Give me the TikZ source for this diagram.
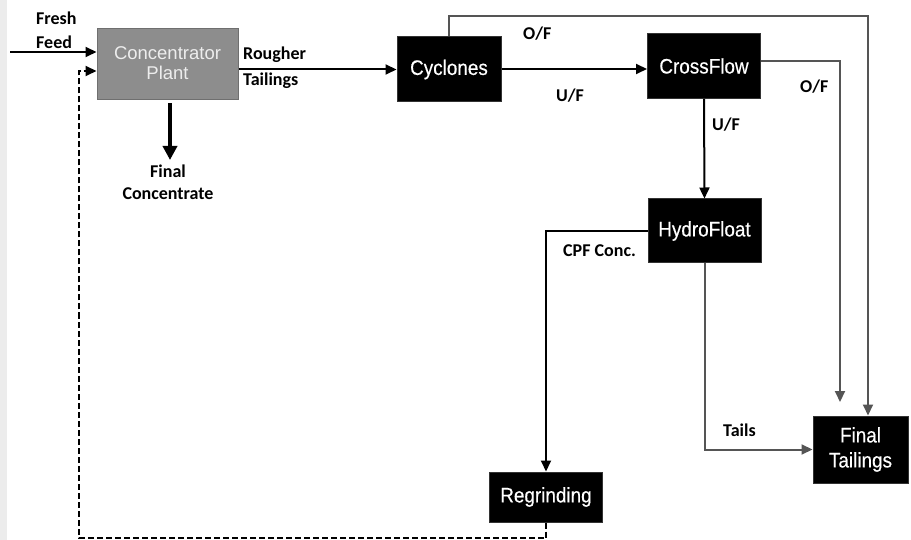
\documentclass[tikz,border=0pt]{standalone}
\usepackage{fontspec}
\setmainfont{Carlito}
\newfontfamily\unitfont[FakeStretch=0.9, FakeBold=0.4]{Liberation Sans}
\newfontfamily\plantfont{Liberation Sans}
\usetikzlibrary{arrows.meta, calc}

\definecolor{plantfill}{HTML}{8D8D8D}
\definecolor{plantline}{HTML}{6F6F6F}
\definecolor{planttext}{HTML}{EDEDED}
\definecolor{sideline}{HTML}{555555}
\definecolor{margin}{HTML}{ECECEC}

\tikzset{
  unit/.style={draw=black!80, fill=black, text=white, line width=1pt, inner sep=0pt,
    align=center, font=\unitfont\fontsize{21}{25}\selectfont},
  plant/.style={unit, draw=plantline, fill=plantfill, text=planttext,
    font=\plantfont\fontsize{18.5}{20}\selectfont},
  lbl/.style={inner sep=0pt, font=\bfseries\fontsize{18}{24}\selectfont},
  flow/.style={line width=2pt, -{Triangle[length=11pt,width=10pt]}},
  sideflow/.style={flow, draw=sideline},
  recycle/.style={flow, dash pattern=on 6pt off 3pt}
}

\begin{document}
\begin{tikzpicture}[x=1pt, y=-1pt]
  \useasboundingbox (0,0) rectangle (911,540);
  \fill[margin] (0,0) rectangle (7,540);

  % units
  \node (plant) at (167.5,64.5) [plant, minimum width=141, minimum height=71, text depth=3pt] {Concentrator\\Plant};
  \node (cyc) at (449,69.5) [unit, minimum width=104, minimum height=65] {Cyclones};
  \node (cross) at (704,66) [unit, minimum width=113, minimum height=65] {CrossFlow};
  \node (hydro) at (704.5,231) [unit, minimum width=113, minimum height=64] {HydroFloat};
  \node (regrind) at (546,497) [unit, minimum width=113, minimum height=50] {Regrinding};
  \node (final) at (860.5,449.5) [unit, minimum width=95, minimum height=67] {Final\\Tailings};

  % free ends
  \coordinate (feed) at (10,52);
  \coordinate (conc) at (170,160);
  \coordinate (cycof) at (868,16);
  \coordinate (crossof) at (840,61);
  \coordinate (crossend) at (840,402);
  \coordinate (retlow) at (79,538);
  \coordinate (rettop) at (79,71);

  % streams
  \draw[flow] (feed) -- (feed -| plant.west);
  \node (feedlbl) at (36,49) [lbl, anchor=base west, align=left] {Fresh\\Feed};

  \draw[line width=3.5pt, -{Triangle[length=14pt,width=14pt]}] (conc |- plant.south) ++(0,3) -- (conc);
  \node (conclbl) at (168,200) [lbl, anchor=base, align=center, font=\bfseries\fontsize{18}{22}\selectfont] {Final\\Concentrate};

  \draw[flow] (plant.east |- cyc.west) -- (cyc.west);
  \node (rtlbl) at (243,86) [lbl, anchor=base west, align=left, font=\bfseries\fontsize{18}{26}\selectfont] {Rougher\\Tailings};

  \draw[flow] ([yshift=0.5pt]cyc.east) -- ([yshift=0.5pt]cyc.east -| cross.west);
  \node (uf1) at (556,102) [lbl, anchor=base west] {U/F};

  \draw[sideflow] (cyc.north) |- (cycof) -- (cycof |- final.north);
  \node (of1) at (523,40) [lbl, anchor=base west] {O/F};

  \draw[sideflow] (crossof -| cross.east) -- (crossof) -- (crossend);
  \node (of2) at (800,93) [lbl, anchor=base west] {O/F};

  \draw[flow] (cross.south) -- (hydro.north);
  \node (uf2) at (712,131) [lbl, anchor=base west] {U/F};

  \draw[flow] (hydro.west) -| (regrind.north);
  \node (cpflbl) at (563,257) [lbl, anchor=base west] {CPF Conc.};

  \draw[sideflow] (hydro.south) |- (final.west);
  \node (tailslbl) at (723,436) [lbl, anchor=base west] {Tails};

  % regrind product back to the plant
  \draw[recycle] (regrind.south) |- (retlow) -- (rettop) -- (rettop -| plant.west);
\end{tikzpicture}
\end{document}
